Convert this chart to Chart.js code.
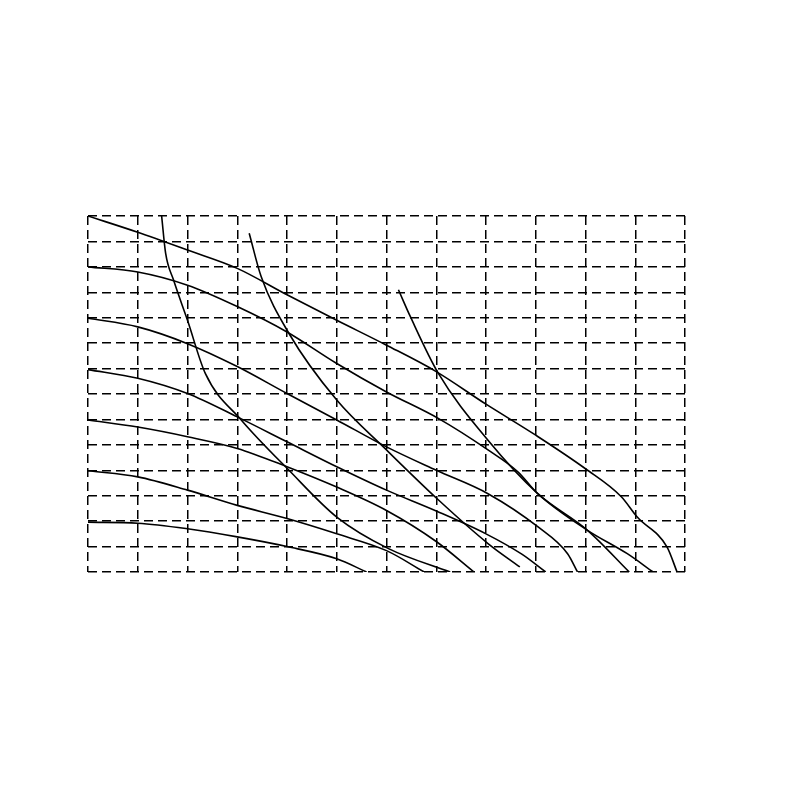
<!DOCTYPE html>
<html><head><meta charset="utf-8">
<script src="https://cdn.jsdelivr.net/npm/chart.js@4"></script>
<style>body{margin:0;background:#fff}#w{width:800px;height:800px}</style>
</head><body><div id="w"><canvas id="c"></canvas></div>
<script>
// Pressure curves (x: м3/ч, y: м)
const press70 = [[0,70],[2.5,66.8],[5,63.3],[7.5,59.7],[10,54.5],[12.5,49.5],[15,44.6],[17.5,39.4],[20,33],[22.5,26.9],[25,20.3],[26.8,14.8],[27.6,10.8],[29.1,4.9],[29.6,0]];
const press60 = [[0,60],[2.5,59],[5,56.4],[7.5,52.2],[10,47.2],[12.5,41],[15,35.4],[17.6,30.2],[20.1,24],[21.6,19.7],[22.6,15.4],[25.1,8.2],[27.1,3.6],[28.4,0]];
const press50 = [[0,49.9],[2.5,48.2],[5,44.9],[7.5,40.4],[10,35.1],[12.5,29.9],[15,24.6],[17.5,20],[20.1,15.4],[22.6,8.9],[24.1,3.6],[24.6,0]];
const press40 = [[0,39.8],[2.5,38.1],[5,35.1],[7.5,30.5],[10,25.6],[12.5,20.7],[15,16.1],[17.5,12],[20,7.5],[21.8,3.5],[23.0,0]];
const press30 = [[0,29.9],[2.5,28.5],[5,26.6],[7.5,24.3],[10,20.7],[12.5,16.7],[15,12.1],[17.5,6],[19.4,0]];
const press20 = [[0,19.9],[2.5,18.7],[5,16.1],[7.5,13.1],[10,10.5],[12.5,7.5],[15,4.2],[16.9,0]];
const press10 = [[0,9.8],[2.5,9.6],[5,8.5],[7.5,6.9],[10,5.0],[12.5,2.6],[14,0]];
// Air consumption curves
const air60 = [[3.7,70],[3.9,62.7],[4.3,57.4],[5,49.5],[5.9,39],[7.7,29.9],[10.1,20],[12.5,10.8],[15.1,4.6],[18.2,0]];
const air90 = [[8.1,66.6],[8.7,58.1],[10.1,46.9],[12.5,33.8],[15,24],[17.6,14.2],[20.1,5.6],[21.7,1.0]];
const air120 = [[15.6,55.5],[16.2,50.2],[17.6,39.1],[20.1,25.9],[22.6,15.4],[25.1,8.2],[27.2,0]];
// Axis labels
const m3hTicks = [2.5,5,7.5,10,12.5,15,17.5,20,22.5,25,27.5,30];
const m3hLabels = ['2.5','5.0','7.5','10','12.5','15','17.5','20','22.5','25','27.5','30м3/ч'];
const lminLabels = ['42','83','125','167','208','250','292','333','375','417','458','500л/мин'];
const yLabels = [0,10,20,30,40,50,60,70];

const curves=[press70,press60,press50,press40,press30,press20,press10,air60,air90,air120];
const F='"Liberation Serif", "DejaVu Serif", serif';

const deco={id:'deco',afterDraw(ch){
 const c=ch.ctx,x=ch.scales.x,y=ch.scales.y,a=ch.chartArea;
 const X=v=>x.getPixelForValue(v),Y=v=>y.getPixelForValue(v);
 c.save();c.strokeStyle='#000';c.fillStyle='#000';c.lineWidth=2;
 c.strokeRect(a.left,a.top,a.right-a.left,a.bottom-a.top);
 // box
 c.fillStyle='#fff';c.fillRect(X(23.6),Y(70),X(30)-X(23.6),Y(55.4)-Y(70));
 c.lineWidth=1.5;c.strokeRect(X(23.6),Y(70),X(30)-X(23.6),Y(55.4)-Y(70));
 c.fillStyle='#000';c.font='20px '+F;c.textAlign='center';c.textBaseline='middle';
 const bx=(X(23.6)+X(30))/2;
 c.fillText('Давление',bx,Y(66.6));c.fillText('воздуха',bx,Y(62.4));
 c.fillText('7 кгс/см²',bx,Y(58.2));
 // leaders
 const L=(p)=>{c.beginPath();c.moveTo(X(p[0][0]),Y(p[0][1]));for(const q of p.slice(1))c.lineTo(X(q[0]),Y(q[1]));c.stroke();};
 c.lineWidth=1.5;
 L([[4.0,62.4],[12.6,73.2],[13.9,73.2]]);
 L([[8.7,59],[14.8,73.2],[16.1,73.2]]);
 L([[16.1,50],[17.8,72.8],[19.4,72.8]]);
 L([[22.5,26.9],[26.8,55.4]]);
 c.textBaseline='alphabetic';
 c.fillText('60',X(13.25),Y(73.8));c.fillText('90',X(15.45),Y(73.8));c.fillText('120',X(18.6),Y(73.4));
 c.fillText('Расход воздуха',338,172);
 // y labels
 c.textAlign='right';c.textBaseline='middle';
 for(const v of yLabels){c.fillText(String(v),a.left-6,v===0?a.bottom+12:Y(v));}
 // x labels
 c.textAlign='center';c.textBaseline='alphabetic';
 m3hTicks.forEach((v,i)=>{const s=m3hLabels[i];const off=i===m3hTicks.length-1?c.measureText(s).width/2-c.measureText('30').width/2:0;c.fillText(s,X(v)+off,592);
   const t=lminLabels[i];const o2=i===m3hTicks.length-1?c.measureText(t).width/2-c.measureText('500').width/2:0;c.fillText(t,X(v)+o2,622);});
 c.lineWidth=1.2;c.beginPath();c.moveTo(a.left,599);c.lineTo(X(30)+5,599);c.stroke();
 c.fillText('Производительность',355,641);
 c.save();c.translate(40,(a.top+a.bottom)/2);c.rotate(-Math.PI/2);c.fillText('Высота подъема, м',0,7);c.restore();
 c.restore();}};

new Chart(document.getElementById('c'),{type:'line',
 data:{datasets:curves.map(d=>({data:d.map(p=>({x:p[0],y:p[1]})),borderColor:'#000',borderWidth:1.6,pointRadius:0,cubicInterpolationMode:'monotone',fill:false}))},
 options:{responsive:true,maintainAspectRatio:false,animation:false,events:[],
  layout:{padding:{left:88,right:115,top:216,bottom:228}},
  plugins:{legend:{display:false},tooltip:{enabled:false}},
  scales:{x:{type:'linear',min:0,max:30,ticks:{display:false,stepSize:2.5},grid:{color:'#000',lineWidth:1.5,drawTicks:false},border:{display:false,dash:[9,5]}},
   y:{min:0,max:70,ticks:{display:false,stepSize:5},grid:{color:'#000',lineWidth:1.5,drawTicks:false},border:{display:false,dash:[9,5]}}}}},
 );
Chart.register(deco);
</script></body></html>
